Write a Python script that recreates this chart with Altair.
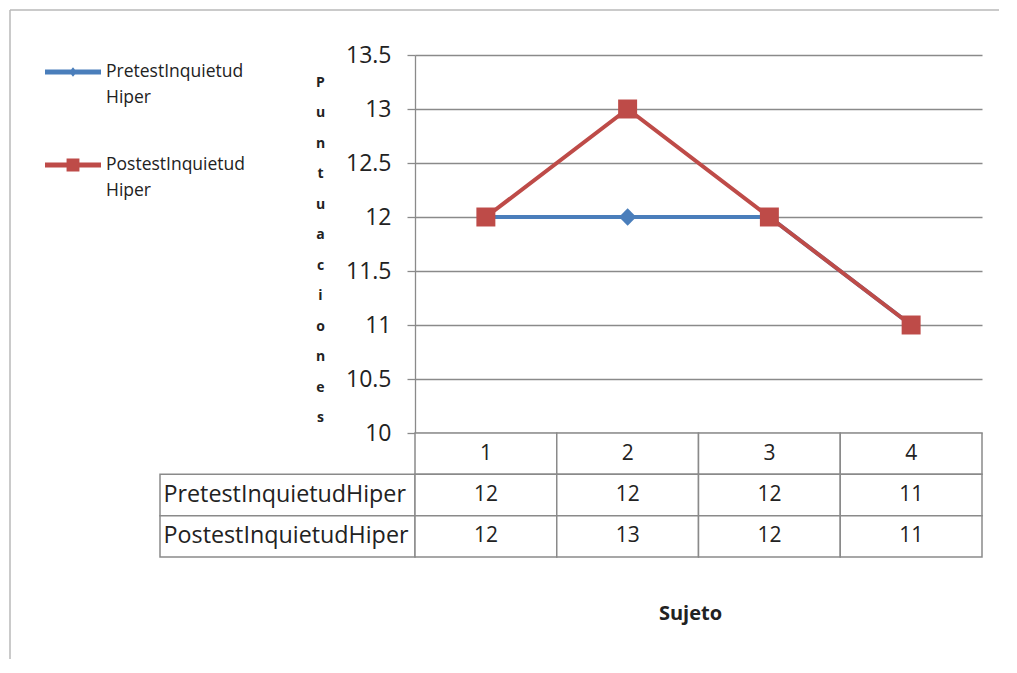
import altair as alt
import pandas as pd

# ---- data ----
sujetos = [1, 2, 3, 4]
series = ["PretestInquietudHiper", "PostestInquietudHiper"]
pretest = [12, 12, 12, 11]
postest = [12, 13, 12, 11]
colores = ["#4A7EBB", "#BE4B48"]
formas = ["diamond", "square"]
tamanos = [300, 360]
y_ticks = [10, 10.5, 11, 11.5, 12, 12.5, 13, 13.5]
titulo_y = "Puntuaciones"
titulo_x = "Sujeto"
fila_encabezado = "encabezado"

rows = []
for s, vals in zip(series, [pretest, postest]):
    for suj, v in zip(sujetos, vals):
        rows.append({"Sujeto": suj, "Serie": s, "Valor": v})
df = pd.DataFrame(rows)

tabla = []
for suj in sujetos:
    tabla.append({"Sujeto": suj, "Fila": fila_encabezado, "Texto": str(suj)})
for s, vals in zip(series, [pretest, postest]):
    for suj, v in zip(sujetos, vals):
        tabla.append({"Sujeto": suj, "Fila": s, "Texto": str(v)})
dt = pd.DataFrame(tabla)
filas = [fila_encabezado] + series
df_filas = pd.DataFrame({"Fila": series})

FONT = "Open Sans"
GRID = "#8a8a8a"
TXT = "#222222"
FRAME = "#b8b8b8"

# ---- top chart: lines ----
x_top = alt.X("Sujeto:O", scale=alt.Scale(domain=sujetos, type="point", padding=0.5), axis=None)
y_top = alt.Y(
    "Valor:Q",
    scale=alt.Scale(domain=[10, 13.5], nice=False, zero=False),
    axis=alt.Axis(
        values=y_ticks, format=".1~f",
        title=list(titulo_y), titleAngle=0, titleFontWeight="bold", titleFontSize=14,
        titleLineHeight=30.5, titleX=-95, titleY=27, titleAlign="center",
        titleBaseline="middle", titleColor=TXT,
        labelFontSize=23, labelPadding=16, labelColor=TXT,
        tickSize=8, tickColor=GRID, tickWidth=1.3,
        domainColor=GRID, domainWidth=1.3,
        gridColor=GRID, gridWidth=1.3,
    ),
)

path_pre = "M-1,-0.09H1V0.09H-1Z M0,-0.17L0.14,0L0,0.17L-0.14,0Z"
path_post = "M-1,-0.09H1V0.09H-1Z M-0.23,-0.23H0.23V0.23H-0.23Z"
split_expr = "[slice(datum.label, 0, 16), slice(datum.label, 16)]"


def leyenda(path, ly):
    return alt.Legend(
        title=None, orient="none", legendX=-370, legendY=ly,
        symbolType=path, symbolSize=3136, labelFontSize=17.5, labelColor=TXT,
        labelOffset=5, padding=0, symbolStrokeWidth=0, symbolOpacity=1,
        labelLimit=400, labelExpr=split_expr, labelBaseline="middle",
    )


lineas = alt.Chart(df).mark_line(strokeWidth=4).encode(
    x=x_top, y=y_top,
    color=alt.Color("Serie:N", scale=alt.Scale(domain=series, range=colores), legend=None),
)
puntos = alt.Chart(df).mark_point(filled=True, opacity=1).encode(
    x=x_top, y=y_top,
    color=alt.Color("Serie:N", scale=alt.Scale(domain=series, range=colores), legend=None),
    shape=alt.Shape("Serie:N", scale=alt.Scale(domain=series, range=formas), legend=None),
    size=alt.Size("Serie:N", scale=alt.Scale(domain=series, range=tamanos), legend=None),
)
ley_pre = alt.Chart(df).transform_filter(alt.datum.Serie == series[0]).mark_point(opacity=0).encode(
    x=x_top, y=y_top,
    fill=alt.Fill("Serie:N", scale=alt.Scale(domain=[series[0]], range=[colores[0]]),
                  legend=leyenda(path_pre, -11)),
)
ley_post = alt.Chart(df).transform_filter(alt.datum.Serie == series[1]).mark_point(opacity=0).encode(
    x=x_top, y=y_top,
    fill=alt.Fill("Serie:N", scale=alt.Scale(domain=[series[1]], range=[colores[1]]),
                  legend=leyenda(path_post, 82)),
)

marco_datos = pd.DataFrame({"m": [0]})
marco_izq = alt.Chart(marco_datos).mark_rule(color=FRAME, strokeWidth=1.5).encode(
    x=alt.value(-405), y=alt.value(-45), y2=alt.value(604))
marco_sup = alt.Chart(marco_datos).mark_rule(color=FRAME, strokeWidth=1.5).encode(
    x=alt.value(-405), x2=alt.value(584), y=alt.value(-45))

superior = (
    alt.layer(marco_izq, marco_sup, lineas, puntos, ley_pre, ley_post)
    .resolve_scale(fill="independent")
    .properties(width=567, height=378)
)

# ---- bottom chart: data table ----
x_bot = alt.X(
    "Sujeto:O", scale=alt.Scale(domain=sujetos, paddingInner=0, paddingOuter=0),
    axis=alt.Axis(title=titulo_x, labels=False, ticks=False, domain=False,
                  titleFontSize=20, titleFontWeight="bold", titlePadding=46,
                  titleX=275, titleColor=TXT),
)
y_bot = alt.Y(
    "Fila:N", scale=alt.Scale(domain=filas, paddingInner=0, paddingOuter=0),
    axis=alt.Axis(title=None, labelExpr=f"datum.value == '{fila_encabezado}' ? '' : datum.value",
                  labelAlign="left", labelPadding=252, ticks=False, tickSize=0,
                  domain=False, labelFontSize=23.3, labelColor=TXT, labelLimit=0),
)
celdas = alt.Chart(dt).mark_rect(fill="white", stroke=GRID, strokeWidth=1.5).encode(x=x_bot, y=y_bot)
textos = alt.Chart(dt).mark_text(fontSize=21, color=TXT).encode(x=x_bot, y=y_bot, text="Texto:N")
celdas_etiqueta = alt.Chart(df_filas).mark_rect(fill="white", stroke=GRID, strokeWidth=1.5).encode(
    x=alt.value(-255), x2=alt.value(0), y=y_bot)

inferior = alt.layer(celdas_etiqueta, celdas, textos).properties(width=567, height=124)

chart = (
    alt.vconcat(superior, inferior, spacing=0, bounds="flush")
    .resolve_scale(x="independent", y="independent")
    .properties(padding={"left": 0, "top": 0, "right": 0, "bottom": 0})
    .configure(font=FONT, style={"guide-label": {"lineHeight": 26}})
    .configure_view(stroke="transparent")
)

chart.save("out.html", embed_options={"renderer": "svg", "actions": False})
